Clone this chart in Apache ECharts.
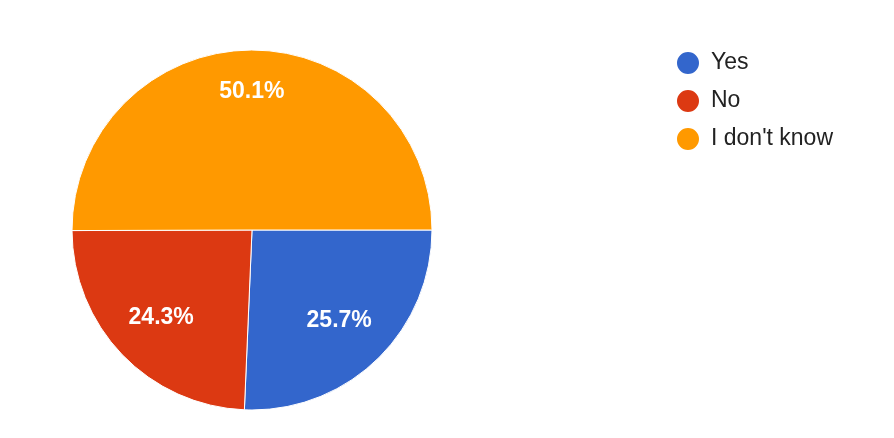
<!DOCTYPE html>
<html>
<head>
<meta charset="utf-8">
<script src="https://cdn.jsdelivr.net/npm/echarts@6/dist/echarts.min.js"></script>
<style>
html,body{margin:0;padding:0;background:#fff;}
#c{width:894px;height:438px;}
</style>
</head>
<body>
<div id="c"></div>
<script>
var categories = ["Yes", "No", "I don't know"];
var values = [25.7, 24.3, 50.1];
var colors = ["#3366cc", "#dc3912", "#ff9900"];

var data = categories.map(function (c, i) {
  return { name: c, value: values[i], itemStyle: { color: colors[i] } };
});

function labelSeries(outer, showIdx) {
  return {
    type: 'pie',
    center: [252, 230],
    radius: [0, outer],
    startAngle: 0,
    clockwise: true,
    silent: true,
    data: data.map(function (d, i) {
      return { name: d.name, value: d.value, label: { show: showIdx.indexOf(i) >= 0 } };
    }),
    itemStyle: { color: 'rgba(0,0,0,0)' },
    label: {
      position: 'inside',
      formatter: function (p) { return p.value.toFixed(1) + '%'; },
      color: '#ffffff',
      fontFamily: 'Liberation Sans, Arial',
      fontWeight: 'bold',
      fontSize: 23
    },
    labelLine: { show: false },
    emphasis: { disabled: true },
    tooltip: { show: false }
  };
}

var chart = echarts.init(document.getElementById('c'), null, { renderer: 'canvas' });
chart.setOption({
  animation: false,
  backgroundColor: '#ffffff',
  legend: {
    orient: 'vertical',
    left: 670,
    top: 45,
    icon: 'circle',
    itemWidth: 24,
    itemHeight: 24,
    itemGap: 12,
    data: categories,
    textStyle: { fontFamily: 'Liberation Sans, Arial', fontSize: 23, color: '#222222', padding: [0, 0, 0, 6] }
  },
  series: [
    {
      type: 'pie',
      center: [252, 230],
      radius: [0, 180],
      startAngle: 0,
      clockwise: true,
      data: data,
      itemStyle: { borderColor: '#ffffff', borderWidth: 1 },
      label: { show: false },
      labelLine: { show: false },
      emphasis: { disabled: true }
    },
    labelSeries(270, [2]),
    labelSeries(246, [0, 1])
  ]
});
</script>
</body>
</html>
